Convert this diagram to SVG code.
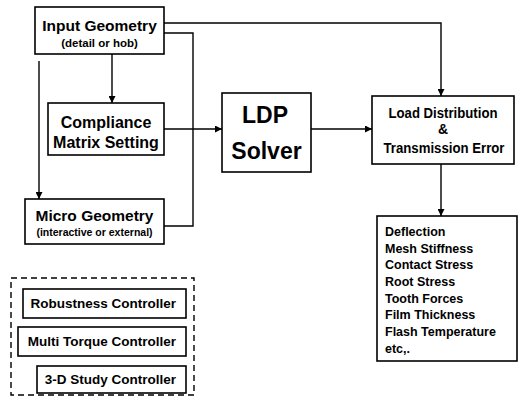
<svg xmlns="http://www.w3.org/2000/svg" width="519" height="405" viewBox="0 0 519 405">
<style>
.box{fill:#fff;stroke:#000;stroke-width:1.6}
.ln{fill:none;stroke:#000;stroke-width:1.4}
text{font-family:"Liberation Sans",Arial,sans-serif;font-weight:bold;fill:#000}
.c{text-anchor:middle}
</style>
<defs>
<marker id="ah" viewBox="0 0 10 10" refX="10" refY="5" markerWidth="7" markerHeight="7" markerUnits="userSpaceOnUse" orient="auto">
<path d="M0,0 L10,5 L0,10 z" fill="#000"/>
</marker>
</defs>
<rect width="519" height="405" fill="#fff"/>
<g id="connectors">
<path class="ln" d="M164,23 H441 V96" marker-end="url(#ah)"/>
<path class="ln" d="M164,33 H193 V226 H164"/>
<path class="ln" d="M164,129 H222" marker-end="url(#ah)"/>
<path class="ln" d="M112,54 V103" marker-end="url(#ah)"/>
<path class="ln" d="M39,61 V199" marker-end="url(#ah)"/>
<path class="ln" d="M311,129 H372" marker-end="url(#ah)"/>
<path class="ln" d="M441,164 V216" marker-end="url(#ah)"/>
</g>
<g id="input-geometry">
<rect class="box" x="35" y="7" width="129" height="47"/>
<text class="c" x="99.5" y="31" font-size="15.5">Input Geometry</text>
<text class="c" x="99.5" y="47" font-size="11.5">(detail or hob)</text>
</g>
<g id="compliance">
<rect class="box" x="48" y="103" width="116" height="52"/>
<text class="c" x="106" y="128" font-size="16">Compliance</text>
<text class="c" x="106" y="148" font-size="16">Matrix Setting</text>
</g>
<g id="micro-geometry">
<rect class="box" x="25" y="199" width="139" height="45"/>
<text class="c" x="94.5" y="221" font-size="15.5">Micro Geometry</text>
<text class="c" x="94.5" y="236" font-size="10.5">(interactive or external)</text>
</g>
<g id="ldp-solver">
<rect class="box" x="222" y="93" width="89" height="79"/>
<text class="c" x="265" y="123" font-size="23">LDP</text>
<text class="c" x="266.5" y="159" font-size="23">Solver</text>
</g>
<g id="load-distribution">
<rect class="box" x="372" y="96" width="142" height="68"/>
<text class="c" x="443" y="118" font-size="14" textLength="109" lengthAdjust="spacingAndGlyphs">Load Distribution</text>
<text class="c" x="443" y="134" font-size="14">&amp;</text>
<text class="c" x="444" y="153" font-size="14" textLength="121" lengthAdjust="spacingAndGlyphs">Transmission Error</text>
</g>
<g id="results">
<rect class="box" x="377" y="216" width="140" height="145"/>
<g font-size="12.5">
<text x="385" y="236">Deflection</text>
<text x="385" y="252.7">Mesh Stiffness</text>
<text x="385" y="269.4">Contact Stress</text>
<text x="385" y="286">Root Stress</text>
<text x="385" y="302.7">Tooth Forces</text>
<text x="385" y="319.4">Film Thickness</text>
<text x="385" y="336">Flash Temperature</text>
<text x="385" y="352.7">etc,.</text>
</g>
</g>
<g id="controllers">
<rect x="11" y="278" width="183" height="117" fill="none" stroke="#000" stroke-width="1.4" stroke-dasharray="6,4"/>
<g id="robustness">
<rect class="box" x="23" y="289" width="163" height="29"/>
<text x="176" y="308" font-size="13.5" text-anchor="end">Robustness Controller</text>
</g>
<g id="multi-torque">
<rect class="box" x="18" y="327" width="168" height="29"/>
<text x="176" y="346" font-size="13.5" text-anchor="end">Multi Torque Controller</text>
</g>
<g id="study-3d">
<rect class="box" x="37" y="366" width="149" height="27"/>
<text x="176" y="384" font-size="13.5" text-anchor="end">3-D Study Controller</text>
</g>
</g>
</svg>
